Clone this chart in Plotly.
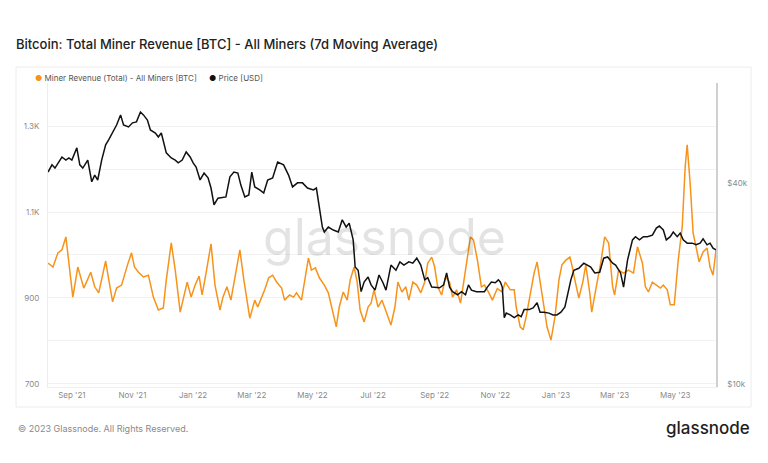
import plotly.graph_objects as go

# ---------------- data ----------------
rev_dates = [
    "2021-08-08","2021-08-13","2021-08-18","2021-08-22","2021-08-26","2021-08-28","2021-09-02","2021-09-07",
    "2021-09-13","2021-09-20","2021-09-24","2021-09-28","2021-10-05","2021-10-07","2021-10-12","2021-10-16",
    "2021-10-21","2021-10-27","2021-10-31","2021-11-03","2021-11-07","2021-11-12","2021-11-17","2021-11-22",
    "2021-11-27","2021-12-02","2021-12-05","2021-12-10","2021-12-14","2021-12-19","2021-12-22","2021-12-26",
    "2021-12-30","2022-01-03","2022-01-07","2022-01-10","2022-01-14","2022-01-19","2022-01-23","2022-01-28",
    "2022-01-31","2022-02-04","2022-02-08","2022-02-13","2022-02-17","2022-02-21","2022-02-25","2022-02-27",
    "2022-03-04","2022-03-07","2022-03-11","2022-03-14","2022-03-18","2022-03-22","2022-03-26","2022-03-31",
    "2022-04-03","2022-04-08","2022-04-12","2022-04-15","2022-04-20","2022-04-23","2022-04-27","2022-04-30",
    "2022-05-04","2022-05-08","2022-05-13","2022-05-17","2022-05-21","2022-05-25","2022-05-28","2022-06-01",
    "2022-06-05","2022-06-08","2022-06-12","2022-06-15","2022-06-18","2022-06-22","2022-06-26","2022-06-29",
    "2022-07-02","2022-07-06","2022-07-10","2022-07-15","2022-07-19","2022-07-23","2022-07-26","2022-07-30",
    "2022-08-03","2022-08-06","2022-08-10","2022-08-14","2022-08-18","2022-08-22","2022-08-25","2022-08-29",
    "2022-09-01","2022-09-04","2022-09-08","2022-09-12","2022-09-16","2022-09-19","2022-09-23","2022-09-27",
    "2022-09-30","2022-10-04","2022-10-07","2022-10-10","2022-10-14","2022-10-18","2022-10-21","2022-10-25",
    "2022-10-29","2022-11-03","2022-11-08","2022-11-11","2022-11-16","2022-11-20","2022-11-22","2022-11-26",
    "2022-11-29","2022-12-02","2022-12-06","2022-12-10","2022-12-13","2022-12-16","2022-12-20","2022-12-23",
    "2022-12-27","2022-12-31","2023-01-04","2023-01-07","2023-01-11","2023-01-15","2023-01-17","2023-01-20",
    "2023-01-24","2023-01-28","2023-01-31","2023-02-04","2023-02-06","2023-02-10","2023-02-15","2023-02-19",
    "2023-02-23","2023-02-27","2023-03-01","2023-03-05","2023-03-10","2023-03-15","2023-03-20","2023-03-24",
    "2023-03-29","2023-04-01","2023-04-04","2023-04-08","2023-04-12","2023-04-16","2023-04-19","2023-04-23",
    "2023-04-26","2023-04-30","2023-05-04","2023-05-08","2023-05-11","2023-05-13","2023-05-16","2023-05-19",
    "2023-05-23","2023-05-25","2023-05-29","2023-06-02","2023-06-05","2023-06-08","2023-06-11",
]
rev_btc = [
    981, 972, 1005, 1012, 1042, 1005, 902, 972,
    923, 960, 926, 912, 986, 958, 891, 923,
    930, 977, 1005, 972, 960, 949, 953, 902,
    872, 877, 942, 1028, 965, 867, 895, 937,
    902, 930, 951, 907, 958, 1026, 930, 872,
    902, 926, 895, 965, 1012, 942, 879, 853,
    895, 879, 902, 919, 947, 953, 937, 923,
    895, 907, 902, 912, 895, 937, 993, 965,
    970, 947, 930, 912, 872, 833, 879, 914,
    895, 942, 972, 937, 872, 844, 879, 888,
    919, 879, 895, 865, 837, 879, 937, 914,
    926, 895, 937, 930, 912, 937, 981, 995,
    972, 926, 907, 949, 937, 902, 919, 888,
    937, 995, 1042, 1035, 988, 926, 930, 914,
    895, 922, 914, 937, 919, 919, 879, 833,
    826, 856, 912, 958, 984, 942, 879, 833,
    802, 856, 942, 977, 988, 995, 977, 942,
    900, 937, 977, 912, 867, 919, 981, 1042,
    1028, 926, 907, 965, 958, 965, 958, 1019,
    981, 926, 914, 937, 930, 923, 930, 919,
    884, 884, 988, 1065, 1205, 1256, 1167, 1051,
    1007, 984, 1007, 1016, 972, 953, 1012,
]

price_dates = [
    "2021-08-08","2021-08-12","2021-08-15","2021-08-18","2021-08-22","2021-08-26","2021-08-29","2021-09-01",
    "2021-09-06","2021-09-09","2021-09-12","2021-09-17","2021-09-21","2021-09-24","2021-09-27","2021-10-01",
    "2021-10-05","2021-10-08","2021-10-12","2021-10-16","2021-10-20","2021-10-23","2021-10-28","2021-11-01",
    "2021-11-05","2021-11-09","2021-11-12","2021-11-16","2021-11-19","2021-11-24","2021-11-27","2021-11-30",
    "2021-12-05","2021-12-10","2021-12-14","2021-12-17","2021-12-21","2021-12-25","2021-12-29","2022-01-01",
    "2022-01-04","2022-01-08","2022-01-12","2022-01-16","2022-01-19","2022-01-22","2022-01-26","2022-01-31",
    "2022-02-03","2022-02-07","2022-02-11","2022-02-15","2022-02-18","2022-02-22","2022-02-26","2022-03-01",
    "2022-03-04","2022-03-09","2022-03-13","2022-03-17","2022-03-22","2022-03-27","2022-04-02","2022-04-07",
    "2022-04-11","2022-04-16","2022-04-21","2022-04-26","2022-05-02","2022-05-05","2022-05-08","2022-05-11",
    "2022-05-13","2022-05-17","2022-05-22","2022-05-27","2022-05-31","2022-06-04","2022-06-07","2022-06-11",
    "2022-06-13","2022-06-16","2022-06-19","2022-06-22","2022-06-26","2022-06-29","2022-07-03","2022-07-07",
    "2022-07-11","2022-07-14","2022-07-19","2022-07-24","2022-07-28","2022-08-01","2022-08-06","2022-08-10",
    "2022-08-14","2022-08-18","2022-08-22","2022-08-25","2022-08-29","2022-09-03","2022-09-06","2022-09-10",
    "2022-09-13","2022-09-16","2022-09-19","2022-09-24","2022-09-28","2022-10-02","2022-10-05","2022-10-08",
    "2022-10-13","2022-10-17","2022-10-21","2022-10-24","2022-10-28","2022-11-01","2022-11-04","2022-11-06",
    "2022-11-08","2022-11-10","2022-11-12","2022-11-16","2022-11-20","2022-11-24","2022-11-27","2022-11-30",
    "2022-12-05","2022-12-09","2022-12-13","2022-12-16","2022-12-20","2022-12-25","2022-12-29","2023-01-02",
    "2023-01-06","2023-01-10","2023-01-14","2023-01-16","2023-01-19","2023-01-24","2023-01-29","2023-02-01",
    "2023-02-05","2023-02-09","2023-02-14","2023-02-18","2023-02-22","2023-02-27","2023-03-02","2023-03-07",
    "2023-03-10","2023-03-14","2023-03-19","2023-03-22","2023-03-26","2023-03-30","2023-04-03","2023-04-08",
    "2023-04-12","2023-04-15","2023-04-19","2023-04-22","2023-04-26","2023-04-29","2023-05-03","2023-05-06",
    "2023-05-09","2023-05-13","2023-05-18","2023-05-22","2023-05-26","2023-05-29","2023-06-02","2023-06-05",
    "2023-06-08","2023-06-11",
]
price_usd = [
    43100, 45300, 44300, 45900, 47800, 46800, 47500, 46800,
    50900, 45300, 44300, 46800, 40300, 42200, 40800, 46800,
    52000, 53800, 56400, 59600, 63900, 59600, 58800, 60500,
    60900, 65200, 63900, 61700, 57600, 56400, 54900, 56400,
    49200, 47500, 46800, 45900, 46800, 49500, 47800, 45900,
    44600, 40800, 42800, 41400, 38600, 34400, 36000, 36300,
    36300, 41700, 43100, 42800, 39400, 36300, 36800, 43100,
    38900, 38100, 37300, 40800, 41400, 46200, 45300, 42200,
    38900, 40000, 40000, 38600, 38100, 38600, 33900, 29500,
    28500, 29500, 28900, 28500, 31000, 29500, 30300, 27000,
    22400, 21900, 18900, 20200, 20900, 19800, 19100, 21200,
    20100, 19100, 22700, 21900, 23200, 22700, 23200, 23000,
    23800, 22700, 20500, 20800, 19500, 19500, 19400, 19800,
    21500, 19500, 18900, 18500, 18900, 18500, 19800, 19100,
    18900, 18900, 18900, 19500, 20200, 20100, 20500, 20200,
    19500, 15800, 16300, 16100, 15800, 16100, 15900, 16700,
    16700, 16900, 17500, 16400, 16400, 16300, 16100, 16100,
    16400, 17000, 19500, 20500, 21900, 22200, 23000, 22700,
    22400, 21500, 21600, 23800, 24000, 23000, 22700, 21500,
    19500, 23500, 27000, 27600, 27000, 27600, 27600, 27900,
    29300, 29700, 28900, 27000, 27600, 28500, 27600, 28300,
    27000, 26400, 26400, 26100, 26400, 27200, 26100, 26400,
    25500, 25200,
]

rev_tick_vals = [700, 800, 900, 1000, 1100, 1200, 1300, 1400]
rev_tick_text = ["700", "", "900", "", "1.1K", "", "1.3K", ""]
price_tick_vals = [10000, 40000]
price_tick_text = ["$10k", "$40k"]

TITLE = "Bitcoin: Total Miner Revenue [BTC] - All Miners (7d Moving Average)"
ORANGE = "#f7931a"
BLACK = "#111111"

# ---------------- layout geometry ----------------
W, H = 768, 463
L, R, T, B = 48, 716, 83, 387  # plot area in pixels


def px(xp):
    return (xp - L) / (R - L)


def py(yp):
    return (B - yp) / (B - T)


fig = go.Figure()
fig.add_trace(go.Scatter(
    x=price_dates, y=price_usd, yaxis="y2", mode="lines",
    line=dict(color=BLACK, width=1.5), name="Price [USD]", showlegend=False,
))
fig.add_trace(go.Scatter(
    x=rev_dates, y=rev_btc, mode="lines",
    line=dict(color=ORANGE, width=1.5), name="Miner Revenue (Total) - All Miners [BTC]",
    showlegend=False,
))

font_family = "Inter, Roboto, 'Noto Sans', sans-serif"

fig.update_layout(
    width=W, height=H,
    margin=dict(l=L, r=W - R, t=T, b=H - B),
    paper_bgcolor="white", plot_bgcolor="white",
    font=dict(family=font_family, size=8, color="#8a8a8a"),
    title=dict(
        text=TITLE, x=16 / W, xanchor="left", xref="container",
        y=1 - 44 / H, yanchor="middle", yref="container",
        font=dict(family=font_family, size=13, color="#222222", weight=500),
    ),
    xaxis=dict(
        type="date", range=["2021-08-08", "2023-06-11"],
        tick0="2021-09-01", dtick="M2", tickformat="%b '%y",
        showgrid=False, zeroline=False, showline=True, linecolor="#f0f0f0",
        ticks="", tickfont=dict(size=8, color="#8a8a8a"),
    ),
    yaxis=dict(
        range=[693, 1400], tickvals=rev_tick_vals, ticktext=rev_tick_text,
        showgrid=True, gridcolor="#f1f1f1", gridwidth=1, zeroline=False,
        showline=True, linecolor="#faebd5", linewidth=1,
        ticks="", tickfont=dict(size=8, color="#8a8a8a"), ticklabelstandoff=6,
    ),
    yaxis2=dict(
        type="log", range=[3.991, 4.901], overlaying="y", side="right",
        tickvals=price_tick_vals, ticktext=price_tick_text,
        showgrid=False, zeroline=False, showline=True, linecolor="#d0d0d0", linewidth=1.5,
        ticks="", tickfont=dict(size=8, color="#8a8a8a"), ticklabelstandoff=8,
    ),
    shapes=[dict(
        type="rect", xref="paper", yref="paper",
        x0=px(16), x1=px(751), y0=py(407), y1=py(67),
        line=dict(color="#ececec", width=1), fillcolor="rgba(0,0,0,0)", layer="below",
    )],
)

annotations = [
    # watermark
    dict(text="glassnode", x=px(384), y=py(237), xref="paper", yref="paper",
         showarrow=False, xanchor="center", yanchor="middle",
         font=dict(family=font_family, size=50, color="rgba(0,0,0,0.11)")),
    # legend
    dict(text=f"<span style='color:{ORANGE}'>●</span> Miner Revenue (Total) - All Miners [BTC]",
         x=px(33), y=py(78), xref="paper", yref="paper", showarrow=False,
         xanchor="left", yanchor="middle", font=dict(family=font_family, size=8, color="#555555")),
    dict(text=f"<span style='color:{BLACK}'>●</span> Price [USD]",
         x=px(207), y=py(78), xref="paper", yref="paper", showarrow=False,
         xanchor="left", yanchor="middle", font=dict(family=font_family, size=8, color="#555555")),
    # footer
    dict(text="© 2023 Glassnode. All Rights Reserved.", x=px(16), y=py(428),
         xref="paper", yref="paper", showarrow=False, xanchor="left", yanchor="middle",
         font=dict(family=font_family, size=9, color="#8a8a8a")),
    dict(text="glassnode", x=px(752), y=py(428), xref="paper", yref="paper",
         showarrow=False, xanchor="right", yanchor="middle",
         font=dict(family=font_family, size=17, color="#1e1e1e", weight=500)),
]
fig.update_layout(annotations=annotations)

fig.write_html(
    "out.html",
    config={"displayModeBar": False},
    post_script="document.body.style.margin='0';document.body.style.overflow='hidden';",
)
